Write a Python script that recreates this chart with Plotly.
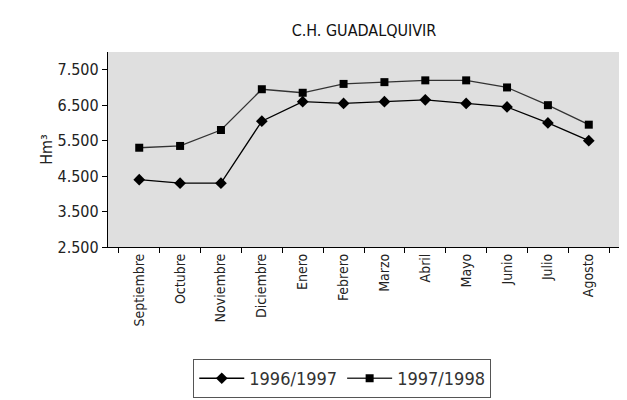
import plotly.graph_objects as go

months = ["Septiembre", "Octubre", "Noviembre", "Diciembre", "Enero", "Febrero",
          "Marzo", "Abril", "Mayo", "Junio", "Julio", "Agosto"]
s_1996_1997 = [4400, 4300, 4300, 6050, 6600, 6550, 6600, 6650, 6550, 6450, 6000, 5500]
s_1997_1998 = [5300, 5350, 5800, 6950, 6850, 7100, 7150, 7200, 7200, 7000, 6500, 5950]
y_ticks = [2500, 3500, 4500, 5500, 6500, 7500]

FONT = "DejaVu Sans Condensed, Liberation Sans, sans-serif"

fig = go.Figure()
fig.add_trace(go.Scatter(x=months, y=s_1996_1997, name="1996/1997", mode="lines+markers",
                         line=dict(color="black", width=1.3),
                         marker=dict(symbol="diamond", size=9, color="black")))
fig.add_trace(go.Scatter(x=months, y=s_1997_1998, name="1997/1998", mode="lines+markers",
                         line=dict(color="#333333", width=1.3),
                         marker=dict(symbol="square", size=8, color="black")))

fig.update_layout(
    width=619, height=392,
    margin=dict(l=100, r=7, t=44, b=153, autoexpand=False),
    paper_bgcolor="white", plot_bgcolor="#dfdfdf",
    separators=",.",
    font=dict(family=FONT, size=15, color="#222222"),
    title=dict(text="C.H. GUADALQUIVIR", x=0.5, xref="paper", y=0.944, yref="container",
               xanchor="center", yanchor="middle", automargin=False,
               font=dict(family=FONT, size=16, color="#111111")),
    showlegend=True,
    legend=dict(orientation="h", x=0.54, xref="container", xanchor="center",
                y=0.005, yref="container", yanchor="bottom",
                bordercolor="#555555", borderwidth=1, bgcolor="white",
                font=dict(family=FONT, size=18, color="#333333"),
                itemwidth=45, tracegroupgap=0),
)
fig.update_xaxes(type="category", tickangle=-90, showline=True, linecolor="black",
                 linewidth=1.2, ticks="outside", tickson="boundaries", ticklen=5,
                 tickcolor="black", showgrid=False, mirror=False, automargin=False,
                 tickfont=dict(family=FONT, size=14, color="#222222"))
fig.update_yaxes(range=[2500, 8000], tickvals=y_ticks, tickformat=",d",
                 showline=True, linecolor="black", linewidth=1.2, ticks="outside",
                 ticklen=5, tickcolor="black", showgrid=False, zeroline=False,
                 automargin=False,
                 title=dict(text="Hm³", standoff=0, font=dict(family=FONT, size=16)),
                 tickfont=dict(family=FONT, size=16, color="#222222"))

fig.write_html("out.html")
